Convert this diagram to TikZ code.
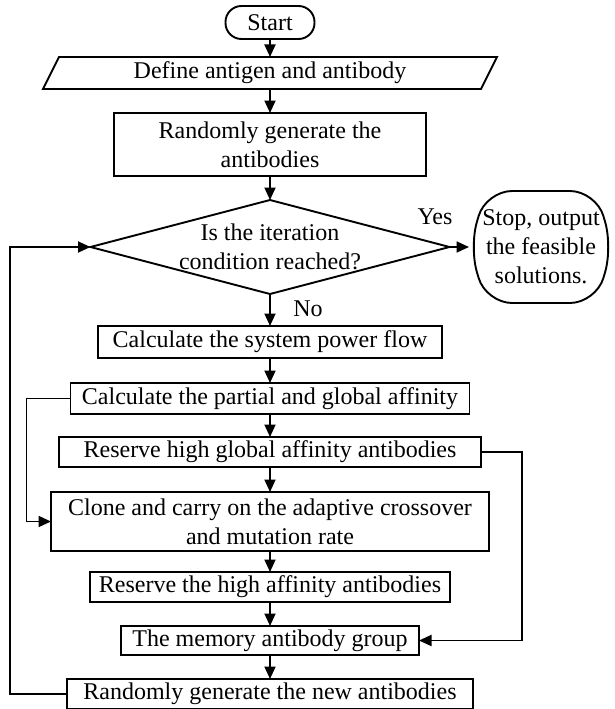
\documentclass[tikz,border=0pt]{standalone}
\usepackage{fontspec}
\setmainfont{Liberation Serif}
\usetikzlibrary{arrows.meta}
\begin{document}
\begin{tikzpicture}[x=1pt,y=-1pt,
  every node/.style={inner sep=0pt, outer sep=0pt, font=\fontsize{24}{29}\selectfont, align=center},
  box/.style={draw, line width=1.9pt},
  shapeline/.style={line width=1.9pt},
  arr/.style={line width=1.9pt, -{Triangle[length=12.5pt,width=11pt]}}
]
\useasboundingbox (0,0) rectangle (614,709);

% nodes
\node[box, rounded corners=16pt, minimum width=89pt, minimum height=33pt] (start) at (270,22.5) {Start};
\node[minimum width=438pt, minimum height=32pt] (define) at (270,73) {Define antigen and antibody};
\draw[shapeline] (59,57) -- (497,57) -- (481,89) -- (43,89) -- cycle;
\node[box, minimum width=312pt, minimum height=63pt] (rand) at (270,144.5) {Randomly generate the\\antibodies};
\node[minimum width=359pt, minimum height=94pt] (cond) at (270,247) {Is the iteration\\condition reached?};
\draw[shapeline] (cond.north) -- (cond.east) -- (cond.south) -- (cond.west) -- cycle;
\node[minimum width=144pt, minimum height=112pt] (stop) at (541,247) {Stop, output\\the feasible\\solutions.};
\draw[shapeline, rounded corners=26pt] (486,191) -- (596,191) -- (612.5,247) -- (596,303) -- (486,303) -- (469.5,247) -- cycle;
\node (yes) at (435,217) {Yes};
\node (no) at (308,309) {No};
\node[box, minimum width=344pt, minimum height=32pt] (calcsys) at (270,342) {Calculate the system power flow};
\node[box, minimum width=399pt, minimum height=31pt] (partial) at (270,398.5) {Calculate the partial and global affinity};
\node[box, minimum width=422pt, minimum height=30pt] (resglobal) at (270,452) {Reserve high global affinity antibodies};
\node[box, minimum width=438pt, minimum height=59pt] (clone) at (270,521.5) {Clone and carry on the adaptive crossover\\and mutation rate};
\node[box, minimum width=360pt, minimum height=30pt] (reshigh) at (270,587) {Reserve the high affinity antibodies};
\node[box, minimum width=298pt, minimum height=29pt] (memory) at (270,640.5) {The memory antibody group};
\node[box, minimum width=406pt, minimum height=30pt] (randnew) at (270,694) {Randomly generate the new antibodies};

% connectors
\draw[arr] (start) -- (define);
\draw[arr] (define) -- (rand);
\draw[arr] (rand) -- (cond.north);
\draw[arr] (cond.east) -- (stop.west);
\draw[arr] (cond.south) -- (calcsys);
\draw[arr] (calcsys) -- (partial);
\draw[arr] (partial) -- (resglobal);
\draw[arr] (resglobal) -- (clone);
\draw[arr] (clone) -- (reshigh);
\draw[arr] (reshigh) -- (memory);
\draw[arr] (memory) -- (randnew);
\draw[arr] (randnew.west) -- ++(-57,0) |- (cond.west);
\draw[arr] (partial.west) -- ++(-44,0) |- (clone.west);
\draw[arr] (resglobal.east) -- ++(41,0) |- (memory.east);
\end{tikzpicture}
\end{document}
